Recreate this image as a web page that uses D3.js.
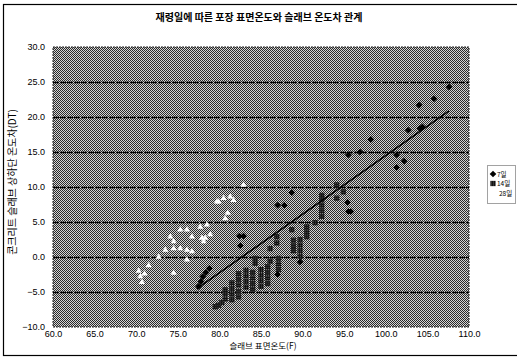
<!DOCTYPE html>
<html>
<head>
<meta charset="utf-8">
<script src="https://cdn.jsdelivr.net/npm/d3@7"></script>
<style>
  body { margin: 0; background: #fff; }
  svg { display: block; font-family: "Liberation Sans", Arial, sans-serif; }
</style>
</head>
<body>
<svg id="chart" width="517" height="364"></svg>
<script>
// data
var TITLE = '재령일에 따른 포장 표면온도와 슬래브 온도차 관계'
var X_TITLE = '슬래브 표면온도(F)'
var Y_TITLE = '콘크리트 슬래브 상하단 온도차(DT)'
var X_TICKS = [60, 65, 70, 75, 80, 85, 90, 95, 100, 105, 110]
var Y_TICKS = [-10, -5, 0, 5, 10, 15, 20, 25, 30]
var SERIES_NAMES = ['7일', '14일', '28일']

var DAY7 = [
  [77.5, -4.2], [77.8, -3.5], [78.0, -2.8], [78.4, -2.2], [78.8, -1.6],
  [82.5, 1.6], [82.4, 3.0], [82.9, 3.0], [87.0, -2.5], [89.7, -0.7],
  [87.0, 7.4], [87.8, 7.4], [88.7, 9.2], [95.5, 6.5], [95.8, 6.5],
  [95.4, 7.8], [95.5, 14.6], [96.9, 15.0], [98.2, 16.8], [101.3, 14.6],
  [101.3, 12.8], [102.2, 13.7], [102.7, 18.1], [104.1, 18.4], [104.4, 18.6],
  [104.0, 21.7], [105.8, 22.6], [107.6, 24.3]
]
var DAY14 = [
  [79.5, -7.1], [79.9, -6.9], [80.3, -6.5], [80.7, -6.0], [80.7, -5.2], [80.7, -4.7],
  [81.5, -6.1], [81.5, -5.3], [81.5, -4.5], [81.5, -3.7],
  [82.3, -5.7], [82.3, -4.9], [82.3, -4.0], [82.3, -3.2], [82.3, -2.4],
  [83.2, -4.3], [83.2, -3.5], [83.2, -2.7], [83.2, -1.9],
  [84.0, -4.6], [84.0, -3.8], [84.0, -3.0], [84.0, -2.2],
  [84.3, -0.9], [84.3, -0.2],
  [85.0, -4.2], [85.0, -3.4], [85.0, -2.6], [85.0, -1.8],
  [85.8, -3.8], [85.8, -3.0], [85.8, -2.2], [85.8, -1.4],
  [86.1, -0.6], [86.1, 1.2], [86.9, 2.0], [86.9, 2.9],
  [87.1, -1.8], [87.1, -1.0], [87.1, -0.2],
  [88.7, 3.9], [88.9, 2.4], [88.9, 1.6], [88.9, 0.9],
  [89.7, 0.1], [89.7, 0.9], [89.7, 1.7], [89.7, 2.5],
  [90.5, 2.9], [90.5, 3.6], [90.5, 4.3], [91.5, 4.9],
  [92.3, 5.8], [92.3, 6.6], [92.3, 7.4], [92.3, 8.2], [92.3, 8.8],
  [94.1, 8.4], [94.1, 10.3], [94.9, 9.3]
]
var DAY28 = [
  [70.3, -2.0], [70.5, -2.8], [70.7, -3.6], [71.0, -2.4], [71.5, -1.2],
  [72.7, 0.0], [73.5, 1.0], [74.1, 2.9], [74.5, 2.2], [74.5, 1.2],
  [74.5, -2.3], [75.3, 3.9], [75.3, 1.2], [76.1, 3.9], [76.1, 1.0],
  [76.1, -0.4], [76.7, 2.9], [76.7, 0.8], [77.7, 4.3], [77.9, 2.7],
  [78.1, 2.2], [78.3, 2.7], [78.5, 4.6], [78.9, 3.2], [79.7, 7.9],
  [79.9, 7.9], [80.5, 8.4], [80.7, 5.5], [81.0, 6.3], [81.3, 8.6],
  [81.7, 8.1], [82.9, 10.3]
]
// linear trend line (slope, intercept) and its x extent
var TREND_COEF = [0.838, -69.3]
var TREND_X = [77.3, 107.6]

// layout
var WIDTH = 517, HEIGHT = 364
var PLOT = { left: 53, right: 469, top: 47, bottom: 327 }

var svg = d3.select('#chart')

// halftone-ish background pattern
var defs = svg.append('defs')
var pat = defs.append('pattern')
  .attr('id', 'dots')
  .attr('width', 2).attr('height', 2)
  .attr('patternUnits', 'userSpaceOnUse')
pat.append('rect').attr('width', 2).attr('height', 2).attr('fill', '#d4d4d4')
pat.append('rect').attr('width', 1).attr('height', 1).attr('fill', '#2a2a2a')
pat.append('rect').attr('x', 1).attr('y', 1).attr('width', 1).attr('height', 1).attr('fill', '#2a2a2a')

var sqPat = defs.append('pattern')
  .attr('id', 'sq')
  .attr('width', 2).attr('height', 2)
  .attr('patternUnits', 'userSpaceOnUse')
sqPat.append('rect').attr('width', 2).attr('height', 2).attr('fill', '#111')
sqPat.append('rect').attr('width', 1).attr('height', 1).attr('fill', '#555')

// outer chart frame
svg.append('rect')
  .attr('x', 3.5).attr('y', 4.5)
  .attr('width', WIDTH + 10).attr('height', 351)
  .attr('fill', 'none')
  .attr('stroke', '#000')
  .attr('stroke-width', 1.2)

var x = d3.scaleLinear().domain([60, 110]).range([PLOT.left, PLOT.right])
var y = d3.scaleLinear().domain([-10, 30]).range([PLOT.bottom, PLOT.top])

// plot area
svg.append('rect')
  .attr('x', PLOT.left).attr('y', PLOT.top)
  .attr('width', PLOT.right - PLOT.left)
  .attr('height', PLOT.bottom - PLOT.top)
  .attr('fill', 'url(#dots)')
  .attr('stroke', '#222')
  .attr('stroke-dasharray', '2,1')

// gridlines
svg.append('g')
  .selectAll('line')
  .data(Y_TICKS.slice(1, -1))
  .enter().append('line')
  .attr('x1', PLOT.left).attr('x2', PLOT.right)
  .attr('y1', function (d) { return Math.round(y(d)) + 0.5 })
  .attr('y2', function (d) { return Math.round(y(d)) + 0.5 })
  .attr('stroke', '#000')
  .attr('stroke-width', 1.3)
  .attr('stroke-dasharray', '6,1')

// axes
var fmt = d3.format('.1f')
var xAxis = svg.append('g')
  .attr('transform', 'translate(0,' + PLOT.bottom + ')')
  .call(d3.axisBottom(x).tickValues(X_TICKS).tickSize(0).tickPadding(4).tickFormat(fmt))
var yAxis = svg.append('g')
  .attr('transform', 'translate(' + PLOT.left + ',0)')
  .call(d3.axisLeft(y).tickValues(Y_TICKS).tickSize(0).tickPadding(8).tickFormat(fmt))
;[xAxis, yAxis].forEach(function (ax) {
  ax.select('.domain').remove()
  ax.selectAll('text').attr('font-size', 9).attr('fill', '#000')
    .attr('font-family', '"Liberation Sans", Arial, sans-serif')
})

// series
var diamond = d3.symbol().type(d3.symbolSquare).size(22)
var square = d3.symbol().type(d3.symbolSquare).size(28)
var triangle = d3.symbol().type(d3.symbolTriangle).size(16)

svg.append('g').selectAll('path')
  .data(DAY28).enter().append('path')
  .attr('d', triangle)
  .attr('transform', function (d) { return 'translate(' + x(d[0]) + ',' + y(d[1]) + ')' })
  .attr('fill', '#fff')

svg.append('g').selectAll('path')
  .data(DAY14).enter().append('path')
  .attr('d', square)
  .attr('transform', function (d) { return 'translate(' + x(d[0]) + ',' + y(d[1]) + ')' })
  .attr('fill', 'url(#sq)')

svg.append('g').selectAll('path')
  .data(DAY7).enter().append('path')
  .attr('d', diamond)
  .attr('transform', function (d) { return 'translate(' + x(d[0]) + ',' + y(d[1]) + ') rotate(45)' })
  .attr('fill', '#000')

// trend line
var trend = TREND_X.map(function (v) { return [v, TREND_COEF[0] * v + TREND_COEF[1]] })
svg.append('path')
  .datum(trend)
  .attr('d', d3.line().x(function (d) { return x(d[0]) }).y(function (d) { return y(d[1]) }))
  .attr('stroke', '#000')
  .attr('stroke-width', 1.6)
  .attr('fill', 'none')

// titles
svg.append('text')
  .attr('x', 259).attr('y', 21)
  .attr('text-anchor', 'middle')
  .attr('font-family', '"Noto Sans CJK KR", sans-serif')
  .attr('font-size', 10).attr('font-weight', 'bold')
  .text(TITLE)
svg.append('text')
  .attr('x', 263).attr('y', 349)
  .attr('text-anchor', 'middle')
  .attr('font-family', '"Noto Sans CJK KR", sans-serif')
  .attr('font-size', 8.5)
  .text(X_TITLE)
svg.append('text')
  .attr('transform', 'translate(16,182) rotate(-90)')
  .attr('text-anchor', 'middle')
  .attr('font-family', '"Noto Sans CJK KR", sans-serif')
  .attr('font-size', 10)
  .text(Y_TITLE)

// legend
var legend = svg.append('g').attr('transform', 'translate(487,165)')
legend.append('rect')
  .attr('x', 0.5).attr('y', 0.5).attr('width', 28).attr('height', 38)
  .attr('fill', '#fff').attr('stroke', '#444').attr('stroke-dasharray', '1,1')
var legendShapes = [diamond, square, triangle]
var legendFills = ['#000', 'url(#sq)', '#fff']
SERIES_NAMES.forEach(function (name, i) {
  var yy = 9 + i * 9.5
  legend.append('path')
    .attr('d', legendShapes[i])
    .attr('transform', 'translate(6,' + yy + ')' + (i === 0 ? ' rotate(45)' : ''))
    .attr('fill', legendFills[i])
  legend.append('text')
    .attr('x', i === 2 ? 12 : 10).attr('y', yy + 2.5)
    .attr('font-family', '"Noto Sans CJK KR", sans-serif')
    .attr('font-size', 6.5)
    .text(name)
})
</script>
</body>
</html>
